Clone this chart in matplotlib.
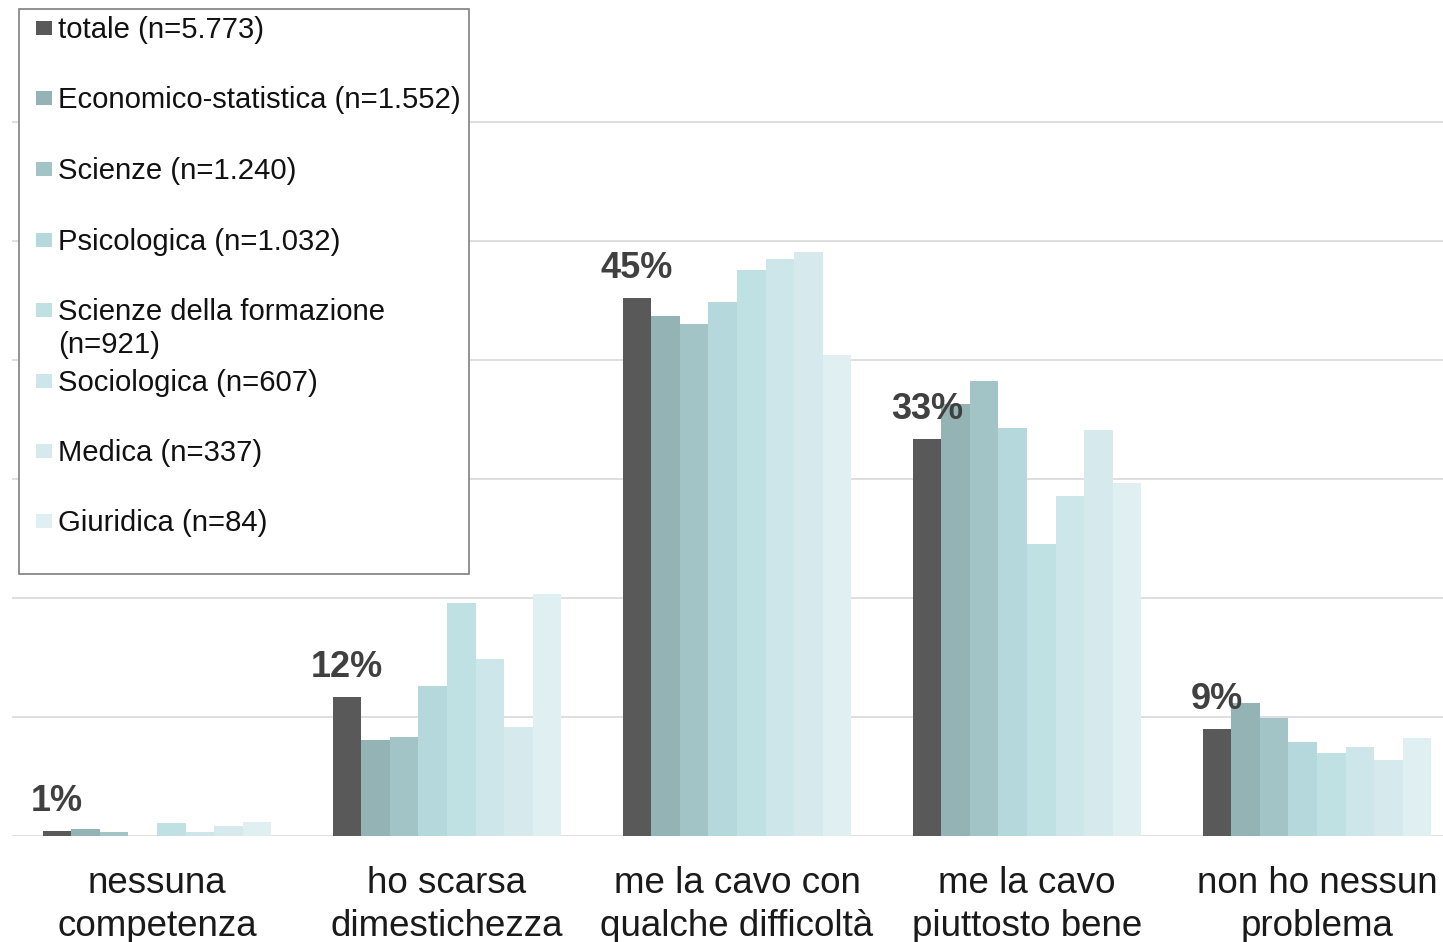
import numpy as np
import matplotlib
matplotlib.use('Agg')
import matplotlib.pyplot as plt
from matplotlib.patches import Rectangle

plt.rcParams['font.family'] = ['Liberation Sans', 'DejaVu Sans']

# dati (%)
categorie = ['nessuna\ncompetenza', 'ho scarsa\ndimestichezza', 'me la cavo con\nqualche difficoltà',
             'me la cavo\npiuttosto bene', 'non ho nessun\nproblema']
serie = ['totale (n=5.773)', 'Economico-statistica (n=1.552)', 'Scienze (n=1.240)',
         'Psicologica (n=1.032)', 'Scienze della formazione\n(n=921)', 'Sociologica (n=607)',
         'Medica (n=337)', 'Giuridica (n=84)']
totale = [0.45, 11.7, 45.2, 33.4, 9.0]
economico = [0.56, 8.1, 43.7, 36.3, 11.2]
scienze = [0.34, 8.3, 43.0, 38.2, 9.9]
psicologica = [0.0, 12.6, 44.9, 34.3, 7.9]
formazione = [1.09, 19.6, 47.6, 24.5, 7.0]
sociologica = [0.34, 14.9, 48.5, 28.6, 7.5]
medica = [0.87, 9.2, 49.1, 34.1, 6.4]
giuridica = [1.18, 20.3, 40.4, 29.7, 8.2]
etichette_totale = ['1%', '12%', '45%', '33%', '9%']

valori = [totale, economico, scienze, psicologica, formazione, sociologica, medica, giuridica]
colori = ['#595959', '#93b3b4', '#a2c4c7', '#b5d8dc', '#c0e1e4', '#cde6e9', '#d6eaed', '#e0eff1']

W, H = 1443, 942
fig = plt.figure(figsize=(W / 100, H / 100), dpi=100)
# l'area del grafico sborda leggermente a destra, come nell'originale
ax = fig.add_axes([12 / W, (H - 836) / H, 1450 / W, (836 - 3) / H])

x = np.arange(len(categorie))
larg = 0.0985
for i, (v, c) in enumerate(zip(valori, colori)):
    ax.bar(x - 3.5 * larg + i * larg, v, width=larg, color=c, zorder=2, linewidth=0)

for xi, v, lab in zip(x, totale, etichette_totale):
    ax.annotate(lab, (xi - 3.5 * larg, v), xytext=(0, 20), textcoords='offset pixels',
                ha='center', va='baseline', fontsize=26, fontweight='bold', color='#404040', zorder=3)

ax.set_xlim(-0.5, len(categorie) - 0.5)
ax.set_ylim(0, 70)
ax.set_yticks(np.arange(0, 61, 10))
ax.yaxis.grid(True, color='#d9d9d9', linewidth=1.2, zorder=0)
ax.tick_params(axis='y', left=False, labelleft=False)
ax.set_xticks(x)
ax.set_xticklabels(categorie, fontsize=26.5, linespacing=1.3, color='#1a1a1a')
ax.tick_params(axis='x', length=0, pad=21.5)
for s in ax.spines.values():
    s.set_visible(False)

# legenda
fig.patches.append(Rectangle((19 / W, 1 - 574 / H), 450 / W, 565 / H, transform=fig.transFigure,
                             facecolor='white', edgecolor='#7f7f7f', linewidth=1.2, zorder=5))
centri = [28, 98, 169, 240, 310, 381, 451, 521]
for nome, c, yc in zip(serie, colori, centri):
    fig.patches.append(Rectangle((36 / W, 1 - (yc + 7) / H), 16 / W, 14 / H, transform=fig.transFigure,
                                 facecolor=c, edgecolor='none', zorder=6))
    fig.text(58 / W, 1 - (yc - 12) / H, nome, ha='left', va='top', fontsize=21.1,
             linespacing=1.22, color='#111111', zorder=7)

fig.savefig('out.png', dpi=100)
